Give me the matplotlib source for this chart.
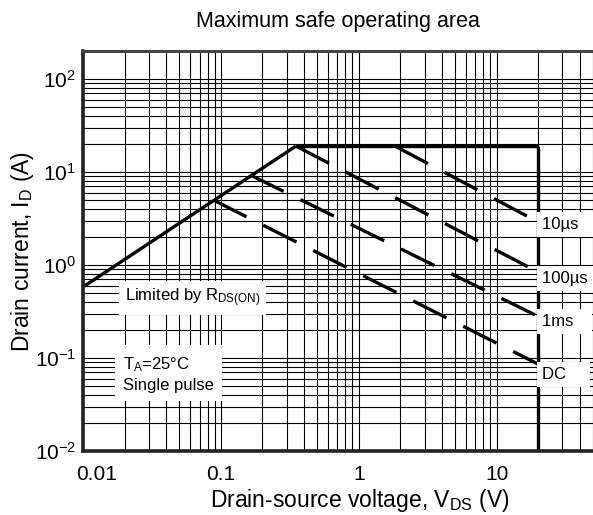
import numpy as np
import matplotlib.pyplot as plt
import matplotlib.transforms as mtransforms
from matplotlib.ticker import LogLocator, NullFormatter

plt.rcParams['font.family'] = ['Liberation Sans', 'DejaVu Sans']
plt.rcParams['mathtext.fontset'] = 'custom'
plt.rcParams['mathtext.rm'] = 'Liberation Sans'
plt.rcParams['mathtext.it'] = 'Liberation Sans'

# SOA boundary (V, A)
rds_v = [0.01, 0.35]
rds_i = [0.58, 19.0]
top_v = [0.35, 20.0]
top_i = [19.0, 19.0]
wall_v = [20.0, 20.0]
wall_i = [19.0, 0.01]

# pulse limit lines: start / end points
pulse_names = ['10µs', '100µs', '1ms', 'DC']
pulse_v = [[1.83, 20.0], [0.35, 20.0], [0.163, 20.0], [0.088, 20.0]]
pulse_i = [[19.0, 2.9], [19.0, 0.84], [9.3, 0.28], [5.0, 0.086]]
label_i = [2.7, 0.72, 0.244, 0.067]

xticks = [0.01, 0.1, 1, 10]
xticklabels = ['0.01', '0.1', '1', '10']

fig = plt.figure(figsize=(5.93, 5.15), dpi=100)
ax = fig.add_axes([83/593, 64/515, 510/593, 400/515])
ax.set_xscale('log')
ax.set_yscale('log')
ax.set_xlim(0.01, 50)
ax.set_ylim(0.01, 200)

ax.xaxis.set_minor_locator(LogLocator(base=10, subs=np.arange(2, 10)))
ax.yaxis.set_minor_locator(LogLocator(base=10, subs=np.arange(2, 10)))
ax.xaxis.set_minor_formatter(NullFormatter())
ax.yaxis.set_minor_formatter(NullFormatter())
ax.set_xticks(xticks, labels=xticklabels)
ax.grid(which='both', color='black', lw=0.8)
ax.tick_params(which='both', length=0, labelsize=15)
ax.tick_params(axis='x', pad=10)
ax.tick_params(axis='y', pad=5)

# shift first x label a bit to the right like the original
lab0 = ax.get_xticklabels()[0]
lab0.set_transform(lab0.get_transform() + mtransforms.ScaledTranslation(14/100, 0, fig.dpi_scale_trans))

for s in ['left', 'bottom']:
    ax.spines[s].set_linewidth(2.6)
    ax.spines[s].set_color('#222222')
ax.spines['top'].set_linewidth(2.2)
ax.spines['top'].set_color('#444444')
ax.spines['right'].set_visible(False)

ax.plot(rds_v, rds_i, color='black', lw=2.4, solid_capstyle='butt')
ax.plot(top_v, top_i, color='black', lw=2.4, solid_capstyle='butt')
ax.plot(wall_v, wall_i, color='black', lw=2.4, solid_capstyle='butt')

for v, i in zip(pulse_v, pulse_i):
    ax.plot(v, i, color='black', lw=2.4, linestyle=(0, (11.2, 5.6)))

box = dict(boxstyle='square,pad=0.3', fc='white', ec='none')
for name, yi in zip(pulse_names, label_i):
    ax.text(21.4, yi, name.ljust(6), fontsize=12, va='center', ha='left', bbox=box)

ax.text(0.0202, 0.44, r'Limited by R$_{\mathregular{DS(ON)}}$', fontsize=12,
        va='center', ha='left', bbox=dict(boxstyle='square,pad=0.35', fc='white', ec='none'))
ax.text(0.0195, 0.067, 'T$_{\\mathregular{A}}$=25°C\nSingle pulse', fontsize=12,
        va='center', ha='left', linespacing=1.3,
        bbox=dict(boxstyle='square,pad=0.5', fc='white', ec='none'))

ax.set_title('Maximum safe operating area', fontsize=15.5, pad=17)
ax.set_xlabel(r'Drain-source voltage, V$_{\mathregular{DS}}$ (V)', fontsize=16.5, labelpad=4)
ax.xaxis.set_label_coords((360 - 83) / 510, -0.09)
ax.set_ylabel(r'Drain current, I$_{\mathregular{D}}$ (A)', fontsize=16.5)
ax.yaxis.set_label_coords(-0.092, 0.5)

fig.savefig('out.png', dpi=100)
